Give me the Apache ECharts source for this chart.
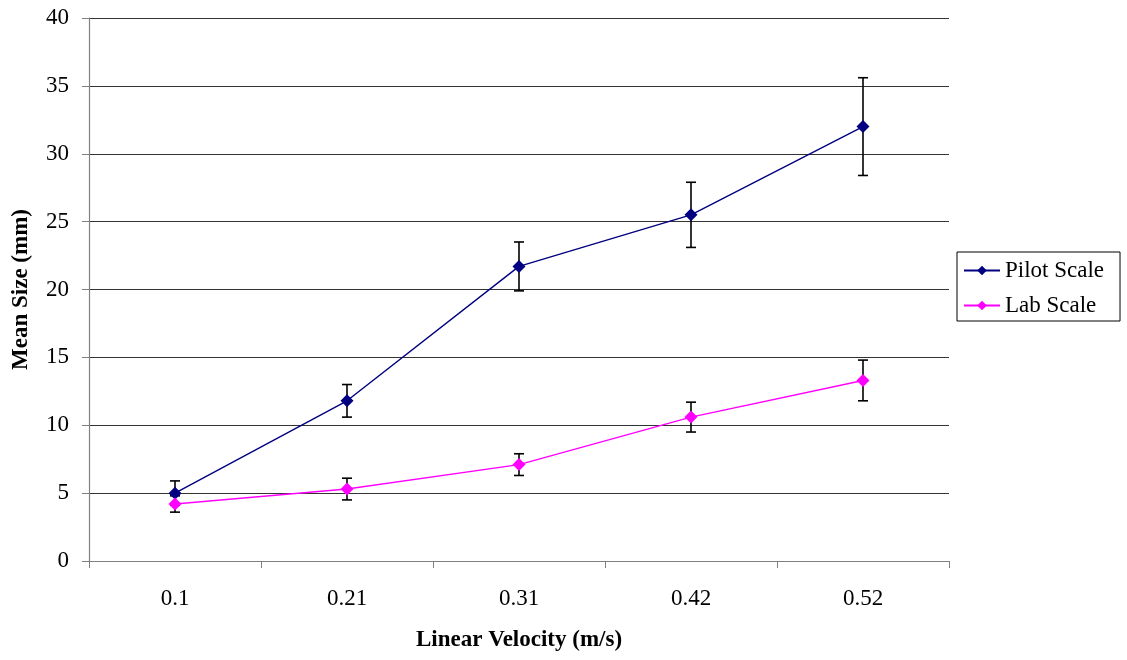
<!DOCTYPE html>
<html><head><meta charset="utf-8">
<script src="https://cdn.jsdelivr.net/npm/echarts@6/dist/echarts.min.js"></script>
<style>html,body{margin:0;padding:0;background:#fff}#c{width:1127px;height:660px}</style>
</head><body><div id="c"></div>
<script>
const categories = ['0.1', '0.21', '0.31', '0.42', '0.52'];
const pilotMean = [5.0, 11.8, 21.7, 25.5, 32.0];
const pilotLow  = [4.1, 10.6, 19.9, 23.1, 28.4];
const pilotHigh = [5.9, 13.0, 23.5, 27.9, 35.6];
const labMean = [4.2, 5.3, 7.1, 10.6, 13.3];
const labLow  = [3.6, 4.5, 6.3, 9.5, 11.8];
const labHigh = [4.8, 6.1, 7.9, 11.7, 14.8];
const yTicks = [0, 5, 10, 15, 20, 25, 30, 35, 40];

const font = '"Liberation Serif", "Times New Roman", serif';

function errData(low, high) { return categories.map((c, i) => [i, low[i], high[i]]); }
function errRender(params, api) {
  const x = api.value(0);
  const lo = api.coord([x, api.value(1)]);
  const hi = api.coord([x, api.value(2)]);
  const hw = 5;
  const st = { stroke: '#000', lineWidth: 1.6 };
  return { type: 'group', children: [
    { type: 'line', shape: { x1: lo[0], y1: lo[1], x2: hi[0], y2: hi[1] }, style: st },
    { type: 'line', shape: { x1: lo[0]-hw, y1: lo[1], x2: lo[0]+hw, y2: lo[1] }, style: st },
    { type: 'line', shape: { x1: hi[0]-hw, y1: hi[1], x2: hi[0]+hw, y2: hi[1] }, style: st }
  ]};
}

const chart = echarts.init(document.getElementById('c'));
chart.setOption({
  animation: false,
  backgroundColor: '#fff',
  textStyle: { fontFamily: font },
  grid: { left: 89, right: 178, top: 18, bottom: 99, containLabel: false, outerBoundsMode: 'none' },
  legend: {
    data: ['Pilot Scale', 'Lab Scale'],
    orient: 'vertical',
    left: 957, top: 252,
    padding: [7, 16, 4, 6],
    itemGap: 12,
    itemWidth: 36, itemHeight: 12,
    borderColor: '#000', borderWidth: 1, borderRadius: 0,
    textStyle: { fontFamily: font, fontSize: 23, color: '#000', padding: [0, 0, 0, 0] }
  },
  xAxis: {
    type: 'category', data: categories, boundaryGap: true,
    name: 'Linear Velocity (m/s)', nameLocation: 'middle', nameGap: 68,
    nameTextStyle: { fontFamily: font, fontSize: 23, fontWeight: 'bold', color: '#000' },
    axisLine: { lineStyle: { color: '#808080', width: 1.2 } },
    axisTick: { show: true, length: 7, lineStyle: { color: '#808080' } },
    axisLabel: { fontFamily: font, fontSize: 23, color: '#000', margin: 26 },
    splitLine: { show: false }
  },
  yAxis: {
    type: 'value', min: yTicks[0], max: yTicks[yTicks.length-1], interval: yTicks[1]-yTicks[0],
    name: 'Mean Size (mm)', nameLocation: 'middle', nameGap: 56, nameRotate: 90,
    nameTextStyle: { fontFamily: font, fontSize: 23, fontWeight: 'bold', color: '#000' },
    axisLine: { show: true, lineStyle: { color: '#808080', width: 1.2 } },
    axisTick: { show: true, length: 7, lineStyle: { color: '#808080' } },
    axisLabel: { fontFamily: font, fontSize: 23, color: '#000', margin: 20 },
    splitLine: { show: true, lineStyle: { color: '#333', width: 1 } }
  },
  series: [
    { name: 'PilotErr', type: 'custom', data: errData(pilotLow, pilotHigh), renderItem: errRender, z: 1, silent: true },
    { name: 'LabErr', type: 'custom', data: errData(labLow, labHigh), renderItem: errRender, z: 1, silent: true },
    { name: 'Pilot Scale', type: 'line', data: pilotMean, symbol: 'diamond', symbolSize: 13,
      lineStyle: { color: '#000080', width: 1.4 }, itemStyle: { color: '#000080' }, z: 3 },
    { name: 'Lab Scale', type: 'line', data: labMean, symbol: 'diamond', symbolSize: 13,
      lineStyle: { color: '#ff00ff', width: 1.4 }, itemStyle: { color: '#ff00ff' }, z: 3 }
  ]
});
</script></body></html>
